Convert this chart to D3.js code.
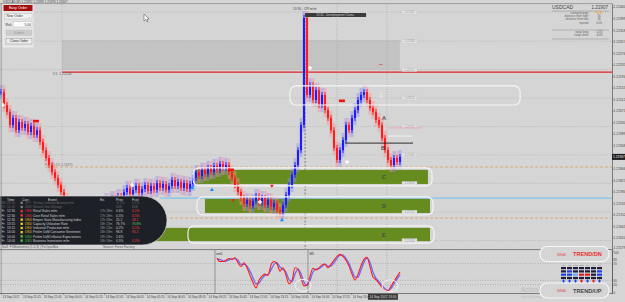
<!DOCTYPE html>
<html>
<head>
<meta charset="utf-8">
<script src="https://cdn.jsdelivr.net/npm/d3@7"></script>
<style>
  body { margin: 0; background: #d5d5d5; overflow: hidden; }
  svg { display: block; font-family: "Liberation Sans", Arial, sans-serif; }
</style>
</head>
<body>
<svg id="chart" width="625" height="302"></svg>
<script>
// ---- data ---------------------------------------------------------------------------------------
var symbol = 'USDCAD', period = 'M5';
var barStep = 11.65;                                   // minutes between plotted samples
var closes = [
  1.22137, 1.22091, 1.22066, 1.22020, 1.22045, 1.22002, 1.22031, 1.22010, 1.22024, 1.21995, 1.22017, 1.21985,
  1.22002, 1.21960, 1.21931, 1.21903, 1.21878, 1.21853, 1.21832, 1.21807, 1.21782,
  1.21754, 1.21736, 1.21718, 1.21704, 1.21711, 1.21697, 1.21718, 1.21708, 1.21729, 1.21715, 1.21736,
  1.21726, 1.21743, 1.21733, 1.21754, 1.21740, 1.21761, 1.21750, 1.21768, 1.21758, 1.21782, 1.21797,
  1.21775, 1.21790, 1.21804, 1.21779, 1.21793, 1.21807, 1.21786, 1.21804, 1.21790, 1.21814, 1.21797,
  1.21811, 1.21790, 1.21804, 1.21825, 1.21804, 1.21818, 1.21797, 1.21814, 1.21793, 1.21811,
  1.21832, 1.21853, 1.21839, 1.21861, 1.21846, 1.21868, 1.21853, 1.21875, 1.21861, 1.21882, 1.21868,
  1.21878, 1.21853, 1.21832, 1.21807, 1.21782, 1.21761, 1.21740, 1.21754, 1.21733, 1.21750, 1.21768,
  1.21743, 1.21761, 1.21736, 1.21754, 1.21729, 1.21743, 1.21718, 1.21711, 1.21736, 1.21772, 1.21807,
  1.21843, 1.21878, 1.21931, 1.22020, 1.22400,
  1.22127, 1.22162, 1.22109, 1.22144, 1.22091, 1.22127, 1.22073, 1.22045, 1.22002, 1.21939, 1.21896,
  1.21931, 1.21967, 1.22020, 1.22002, 1.22045, 1.22073, 1.22109, 1.22127, 1.22137, 1.22109, 1.22081,
  1.22066, 1.22038, 1.22020, 1.21974, 1.21931, 1.21896, 1.21878, 1.21903, 1.21889, 1.21907
];
var oscStart = 72;                                      // first sample with oscillator values
var stochMain = [83, 75, 75, 78, 82, 80, 84, 72, 63, 72, 60, 42, 25, 12, 30, 40, 45, 42, 67, 75,
  70, 52, 60, 42, 22, 30, 60, 56, 36, 17, 19, 40, 59, 55, 60, 67, 69, 60, 68, 78,
  87, 92, 87, 78, 64, 45, 31, 44, 65, 80, 85, 63, 38, 32, 23, 14, 7, 5, 16, 27, 39, 50];
var stochSignal = [80, 80, 76, 76, 79, 81, 82, 78, 68, 68, 64, 52, 36, 22, 24, 34, 42, 44, 55, 68,
  72, 62, 56, 50, 32, 27, 45, 57, 46, 26, 18, 30, 50, 57, 58, 63, 68, 64, 64, 72,
  82, 90, 90, 82, 70, 53, 38, 38, 55, 73, 83, 73, 50, 35, 27, 18, 10, 6, 11, 22, 33, 44];
var oscLevels = [0, 20, 30, 70, 80, 100];
var priceTicks = [1.22440, 1.22399, 1.22358, 1.22317, 1.22276, 1.22235, 1.22194, 1.22153, 1.22112,
  1.22071, 1.22030, 1.21989, 1.21948, 1.21907, 1.21866, 1.21825, 1.21784, 1.21743, 1.21702,
  1.21661, 1.21620, 1.21579];
var timeTicks = ['2017-09-13 20:05', '2017-09-13 21:25', '2017-09-13 22:45', '2017-09-14 00:05',
  '2017-09-14 01:25', '2017-09-14 02:45', '2017-09-14 04:05', '2017-09-14 05:25', '2017-09-14 06:45',
  '2017-09-14 08:05', '2017-09-14 09:25', '2017-09-14 10:45', '2017-09-14 12:05', '2017-09-14 13:25',
  '2017-09-14 14:45', '2017-09-14 16:05', '2017-09-14 17:25', '2017-09-14 18:45'];
var cursorTime = '2017-09-14 19:50';
var levelPrices = [1.22421, 1.22318, 1.22217, 1.22116, 1.22015, 1.21914, 1.21813, 1.21711, 1.21610];
var gridMinutes = [237, 1305, 1499];
// zones: [startMin, endMin, top, bottom, label]
var zones = [
  [753, 1658, 1.21861, 1.21811, 'C'],
  [792, 1666, 1.21758, 1.21708, 'D'],
  [-4, 1666, 1.21655, 1.21608, 'E']
];
var zoneOutlines = [[1122, 2016, 1.22159, 1.22091], [746, 1674, 1.21868, 1.21804],
  [761, 1678, 1.21765, 1.21701], [726, 1682, 1.21662, 1.21601]];
var supplyZone = [237, 1549, 1.22322, 1.22216];
var dailyLine = 1.22208, fibLevels = [[171, 1.21871], [637, 1.21690]], pivotLine = [617, 1.21761];
var abLines = [[1336, 1600, 1.21956, '#1a1a1a'], [1503, 1635, 1.22010, '#f0a0c8'], [1503, 1596, 1.21981, '#f4f4f4']];
var letters = [[1487, 1.22045, 'A'], [1483, 1.21939, 'B']];
var stars = [[8, 1.22091], [509, 1.21807], [1006, 1.21747], [1200, 1.22223], [1344, 1.21889]];
var upArrows = [[742, 1.21797], [819, 1.21790], [1091, 1.21683]];
var downArrows = [[901, 1.21754], [1052, 1.21804]];
var redBlocks = [[136, 1.22034], [893, 1.21861], [1324, 1.22106]];
var newsMinute = 1181;
var infoRows = [['change/range:', '96/96', '#f0a020'], ['distance from high:', '56', '#666'],
  ['distance from low:', '36', '#666'], ['spread:', '0.00', '#666']];
var swapRows = [['swap long:', '-0.33'], ['swap short:', '-4.03']];
var newsHeader = ['Time', 'Curr.', 'Event', 'Ex.', 'Prev', 'Fcst'];
var newsRows = [
  ['We', '23:50', 'JPY', 'Tertiary Industry Activity m/m', '', '-0.1%', '0.1%', 'past'],
  ['Th', '15:30', 'USD', 'Natural Gas Storage', '', '65B', '82B', 'past'],
  ['Fr', '12:30', 'USD', 'Retail Sales m/m', '17h 28m', '0.6%', '0.1%', 'high'],
  ['Fr', '12:30', 'USD', 'Core Retail Sales m/m', '17h 28m', '0.5%', '0.5%', 'high'],
  ['Fr', '12:30', 'USD', 'Empire State Manufacturing Index', '17h 28m', '25.2', '18.1', 'med'],
  ['Fr', '13:15', 'USD', 'Capacity Utilization Rate', '18h 13m', '76.7%', '76.8%', 'med'],
  ['Fr', '13:15', 'USD', 'Industrial Production m/m', '18h 13m', '0.2%', '0.1%', 'med'],
  ['Fr', '14:00', 'USD', 'Prelim UoM Consumer Sentiment', '18h 58m', '96.8', '95.1', 'med'],
  ['Fr', '14:00', 'USD', 'Prelim UoM Inflation Expectations', '18h 58m', '2.6%', '', 'low'],
  ['Fr', '14:00', 'USD', 'Business Inventories m/m', '18h 58m', '0.5%', '0.2%', 'low']
];
var fcstColors = ['#888', '#888', '#ff4040', '#ff4040', '#ff4040', '#60d060', '#ff4040', '#ff4040', '#888', '#ff4040'];
var tfNames = ['M1', 'M5', 'M15', 'M30', 'H1', 'H4', 'D1'];
var tfMatrix = [
  ['n', 'n', 'n', 'n', 'n', 'n', 'n'],
  ['n', 'b', 'n', 'n', 'n', 'n', 'b'],
  ['b', 'b', 'l', 'r', 'r', 'n', 'b'],
  ['n', 'n', 'n', 'n', 'n', 'n', 'n']
];
var tfDots = ['b', 'b', 'b', 'r', 'b', 'r', 'b'];

// ---- scales -------------------------------------------------------------------------------------
var svg = d3.select('#chart');
var plotRight = 612, mainTop = 4, mainBottom = 249, oscTop = 250, oscBottom = 293;
var t0 = new Date(2017, 8, 13, 20, 5);
var parseT = d3.timeParse('%Y-%m-%d %H:%M');
function tm(m) { return new Date(+t0 + m * 60000) }
var x = d3.scaleTime().domain([t0, tm(2400)]).range([1, 619]);
function xm(m) { return x(tm(m)) }
var y = d3.scaleLinear().domain([1.22464, 1.21399]).range([0, 300]);
var yOsc = d3.scaleLinear().domain([0, 100]).range([293, 251]);
var bars = closes.map(function(c, i) {
  return { m: i * barStep, open: i ? closes[i - 1] : c, close: c };
});
var last = closes[closes.length - 1];

svg.append('rect').attr('width', 625).attr('height', 302).attr('fill', '#d5d5d5');
svg.append('clipPath').attr('id', 'clipMain').append('rect')
  .attr('x', 0).attr('y', mainTop).attr('width', plotRight).attr('height', mainBottom - mainTop);
var main = svg.append('g').attr('clip-path', 'url(#clipMain)');

// Background zones and grid ///////////////////////////////////////////////////////////////////////
main.append('rect').attr('x', xm(supplyZone[0])).attr('y', y(supplyZone[2]))
  .attr('width', xm(supplyZone[1]) - xm(supplyZone[0])).attr('height', y(supplyZone[3]) - y(supplyZone[2]))
  .attr('fill', '#c3c3c3');
main.selectAll('.hgrid').data(levelPrices).enter().append('line')
  .attr('x1', 0).attr('x2', plotRight).attr('y1', y).attr('y2', y)
  .attr('stroke', '#a9a9a9').attr('stroke-width', 0.6).attr('stroke-dasharray', '1,1.5');
main.selectAll('.vgrid').data(gridMinutes).enter().append('line')
  .attr('x1', xm).attr('x2', xm).attr('y1', mainTop).attr('y2', mainBottom)
  .attr('stroke', '#a0a0a0').attr('stroke-width', 0.6).attr('stroke-dasharray', '1,1.5');
main.append('line').attr('x1', xm(newsMinute)).attr('x2', xm(newsMinute)).attr('y1', 14).attr('y2', mainBottom)
  .attr('stroke', '#555').attr('stroke-width', 0.7).attr('stroke-dasharray', '2,1.5');

// horizontal levels
main.append('line').attr('x1', xm(237)).attr('x2', plotRight).attr('y1', y(dailyLine)).attr('y2', y(dailyLine))
  .attr('stroke', '#e02020').attr('stroke-width', 1.2);
main.append('text').attr('x', 53).attr('y', y(dailyLine) + 3).attr('font-size', 3.4).attr('fill', '#666')
  .text('D1: ' + d3.format('.5f')(dailyLine));
fibLevels.forEach(function(f) {
  main.append('line').attr('x1', xm(f[0])).attr('x2', plotRight).attr('y1', y(f[1])).attr('y2', y(f[1]))
    .attr('stroke', '#e0a060').attr('stroke-width', 0.8).attr('stroke-dasharray', '3,2');
});
main.append('text').attr('x', xm(fibLevels[0][0])).attr('y', y(fibLevels[0][1]) - 0.6)
  .attr('font-size', 3.2).attr('fill', '#777').text('Fib. 38.2%  ' + d3.format('.5f')(fibLevels[0][1]));
main.append('line').attr('x1', xm(pivotLine[0])).attr('x2', plotRight).attr('y1', y(pivotLine[1])).attr('y2', y(pivotLine[1]))
  .attr('stroke', '#7ec4f0').attr('stroke-width', 1.2);

// green zones
zones.forEach(function(z) {
  main.append('rect').attr('x', xm(z[0])).attr('y', y(z[2]))
    .attr('width', xm(z[1]) - xm(z[0])).attr('height', y(z[3]) - y(z[2])).attr('fill', '#668b1e');
  main.append('text').attr('x', xm(1487)).attr('y', (y(z[2]) + y(z[3])) / 2 + 2)
    .attr('text-anchor', 'middle').attr('font-size', 5.5).attr('font-weight', 'bold').attr('fill', '#4a4a4a').text(z[4]);
});

// level tags
levelPrices.forEach(function(p) {
  main.append('rect').attr('x', 402).attr('y', y(p) - 2).attr('width', 15).attr('height', 4)
    .attr('fill', '#e2e2e2').attr('stroke', '#bdbdbd').attr('stroke-width', 0.3);
  main.append('text').attr('x', 409.5).attr('y', y(p) + 1.1).attr('text-anchor', 'middle')
    .attr('font-size', 2.8).attr('fill', '#999').text(d3.format('.5f')(p));
});

// Bars ////////////////////////////////////////////////////////////////////////////////////////////
var up = '#1c1cff', down = '#ff1c1c';
main.selectAll('.ghost').data(bars).enter().append('rect')
  .attr('x', function(d) { return xm(d.m) - 1.5 })
  .attr('y', function(d) { return y(Math.max(d.open, d.close)) - 7 })
  .attr('width', 3)
  .attr('height', function(d) { return Math.abs(y(d.open) - y(d.close)) + 14 })
  .attr('fill', function(d) { return d.close >= d.open ? '#8c8cff' : '#ff9090' })
  .attr('opacity', 0.45);
main.selectAll('.wick').data(bars).enter().append('rect')
  .attr('x', function(d) { return xm(d.m) - 0.5 })
  .attr('y', function(d) { return y(Math.max(d.open, d.close)) - 3 })
  .attr('width', 1)
  .attr('height', function(d) { return Math.abs(y(d.open) - y(d.close)) + 6 })
  .attr('fill', function(d) { return d.close >= d.open ? up : down });
main.selectAll('.body').data(bars).enter().append('rect')
  .attr('x', function(d) { return xm(d.m) - 1 })
  .attr('y', function(d) { return y(Math.max(d.open, d.close)) })
  .attr('width', 2)
  .attr('height', function(d) { return Math.max(1, Math.abs(y(d.open) - y(d.close))) })
  .attr('fill', function(d) { return d.close >= d.open ? up : down });

// outlines over the bars
zoneOutlines.forEach(function(z) {
  main.append('rect').attr('x', xm(z[0])).attr('y', y(z[2]))
    .attr('width', xm(z[1]) - xm(z[0])).attr('height', y(z[3]) - y(z[2]))
    .attr('rx', 6).attr('fill', 'none').attr('stroke', '#f6f6f6').attr('stroke-width', 1.1);
});
abLines.forEach(function(l) {
  main.append('line').attr('x1', xm(l[0])).attr('x2', xm(l[1])).attr('y1', y(l[2])).attr('y2', y(l[2]))
    .attr('stroke', l[3]).attr('stroke-width', 0.9);
});
letters.forEach(function(l) {
  main.append('text').attr('x', xm(l[0])).attr('y', y(l[1]) + 2).attr('text-anchor', 'middle')
    .attr('font-size', 5.5).attr('font-weight', 'bold').attr('fill', '#4a4a4a').text(l[2]);
});
main.append('text').attr('x', xm(1476)).attr('y', y(1.22126) + 2.5).attr('text-anchor', 'middle')
  .attr('font-size', 7).attr('fill', '#f4f4f4').text('⇩');
main.append('line').attr('x1', xm(1468)).attr('x2', xm(1482)).attr('y1', y(1.22235)).attr('y2', y(1.22235))
  .attr('stroke', '#e05050').attr('stroke-width', 0.8);
main.selectAll('.block').data(redBlocks).enter().append('rect')
  .attr('x', function(d) { return xm(d[0]) - 3 }).attr('y', function(d) { return y(d[1]) - 1.3 })
  .attr('width', 6).attr('height', 2.6).attr('fill', '#f01010');
main.selectAll('.star').data(stars).enter().append('path')
  .attr('transform', function(d) { return 'translate(' + xm(d[0]) + ',' + y(d[1]) + ')' })
  .attr('d', d3.symbol(d3.symbolCross, 9)).attr('fill', '#ffffff');
main.selectAll('.uparrow').data(upArrows).enter().append('path')
  .attr('transform', function(d) { return 'translate(' + xm(d[0]) + ',' + y(d[1]) + ')' })
  .attr('d', d3.symbol(d3.symbolTriangle, 7)).attr('fill', '#1890ff');
main.selectAll('.dnarrow').data(downArrows).enter().append('path')
  .attr('transform', function(d) { return 'translate(' + xm(d[0]) + ',' + y(d[1]) + ') rotate(180)' })
  .attr('d', d3.symbol(d3.symbolTriangle, 6)).attr('fill', '#f02020');

// news annotation
main.append('text').attr('x', xm(newsMinute) - 12).attr('y', 10).attr('font-size', 3.2).attr('fill', '#444')
  .text('13:30 - CPI m/m');
main.append('rect').attr('x', xm(newsMinute)).attr('y', 13).attr('width', 61).attr('height', 4).attr('fill', '#3a3a3a');
main.append('text').attr('x', xm(newsMinute) + 30).attr('y', 16).attr('text-anchor', 'middle')
  .attr('font-size', 2.8).attr('fill', '#ccc').text('13:30 - Unemployment Claims');

// Left news table /////////////////////////////////////////////////////////////////////////////////
var tbl = svg.append('g');
tbl.append('path').attr('d', 'M0,196 H142 A25,24.5 0 0 1 142,245 H0 Z')
  .attr('fill', '#1d2027').attr('stroke', '#e8e8e8').attr('stroke-width', 0.6);
var colX = [7, 22, 48, 100, 116, 132];
newsHeader.forEach(function(h, i) {
  tbl.append('text').attr('x', colX[i]).attr('y', 200.5).attr('font-size', 3.4).attr('fill', '#d8d8d8').text(h);
});
var dotCol = { past: '#777', high: '#f03030', med: '#f0c020', low: '#50c040' };
newsRows.forEach(function(r, i) {
  var ry = 204 + i * 4.2, past = r[7] === 'past';
  var base = past ? '#6a6a6a' : '#d0d0d0';
  tbl.append('text').attr('x', 1.5).attr('y', ry).attr('font-size', 3.2).attr('fill', base).text(r[0]);
  tbl.append('text').attr('x', 7).attr('y', ry).attr('font-size', 3.2).attr('fill', base).text(r[1]);
  tbl.append('rect').attr('x', 20.5).attr('y', ry - 2.4).attr('width', 2.4).attr('height', 2.4).attr('fill', dotCol[r[7]]);
  tbl.append('text').attr('x', 25).attr('y', ry).attr('font-size', 3.2).attr('fill', past ? '#6a6a6a' : dotCol[r[7]]).text(r[2]);
  tbl.append('text').attr('x', 33).attr('y', ry).attr('font-size', 3.2).attr('fill', base).text(r[3]);
  tbl.append('text').attr('x', 100).attr('y', ry).attr('font-size', 3.2).attr('fill', '#999').text(r[4]);
  tbl.append('text').attr('x', 116).attr('y', ry).attr('font-size', 3.2).attr('fill', base).text(r[5]);
  tbl.append('text').attr('x', 132).attr('y', ry).attr('font-size', 3.2).attr('fill', past ? '#6a6a6a' : fcstColors[i]).text(r[6]);
});
svg.append('text').attr('x', 2).attr('y', 248.2).attr('font-size', 3.2).attr('fill', '#555')
  .text('Swfl: FXMarketInfo (1.0.3)  |  FxOpenBox');
svg.append('text').attr('x', 103).attr('y', 248.2).attr('font-size', 3.2).attr('fill', '#555').text('Source: Forex Factory');

// Order panel (top left) //////////////////////////////////////////////////////////////////////////
var op = svg.append('g');
op.append('rect').attr('x', 3).attr('y', 4).attr('width', 30).attr('height', 43)
  .attr('fill', '#e4e4e4').attr('stroke', '#f8f8f8').attr('stroke-width', 0.6);
op.append('rect').attr('x', 3.5).attr('y', 5).attr('width', 29).attr('height', 6).attr('fill', '#a40e0e');
op.append('text').attr('x', 18).attr('y', 9.3).attr('text-anchor', 'middle').attr('font-size', 3.6).attr('fill', '#fff').text('Easy Order');
op.append('rect').attr('x', 5).attr('y', 13.5).attr('width', 27).attr('height', 5.5).attr('fill', '#f2f2f2').attr('stroke', '#999').attr('stroke-width', 0.3);
op.append('text').attr('x', 6.5).attr('y', 17.4).attr('font-size', 3.4).attr('fill', '#333').text('New Order');
op.append('text').attr('x', 28).attr('y', 17.6).attr('font-size', 3.4).attr('fill', '#555').text('⌄');
op.append('text').attr('x', 5.5).attr('y', 25.5).attr('font-size', 3.4).attr('fill', '#333').text('Rsk');
op.append('rect').attr('x', 13).attr('y', 21.5).attr('width', 19).attr('height', 5.5).attr('fill', '#fafafa').attr('stroke', '#999').attr('stroke-width', 0.3);
op.append('text').attr('x', 31).attr('y', 25.5).attr('text-anchor', 'end').attr('font-size', 3.4).attr('fill', '#333').text('5.00');
op.append('rect').attr('x', 6).attr('y', 30).attr('width', 26).attr('height', 5.5).attr('fill', '#cbcbcb').attr('stroke', '#bbb').attr('stroke-width', 0.3);
op.append('text').attr('x', 19).attr('y', 34).attr('text-anchor', 'middle').attr('font-size', 3.3).attr('fill', '#999').text('Submit');
op.append('rect').attr('x', 6).attr('y', 38.5).attr('width', 26).attr('height', 5.5).attr('fill', '#ececec').attr('stroke', '#888').attr('stroke-width', 0.4);
op.append('text').attr('x', 19).attr('y', 42.4).attr('text-anchor', 'middle').attr('font-size', 3.3).attr('fill', '#222').text('Close Order');
// mouse pointer
svg.append('path').attr('d', 'M144,14 L144,21 L145.7,19.4 L147,22 L148,21.5 L146.8,19 L149,19 Z')
  .attr('fill', '#fff').attr('stroke', '#222').attr('stroke-width', 0.4);

// Header line and frame
svg.append('text').attr('x', 3).attr('y', 2.7).attr('font-size', 3).attr('fill', '#444')
  .text(symbol + ',' + period + '  1.21882 1.21895 1.21876 ' + d3.format('.5f')(last));
svg.append('line').attr('x1', 0).attr('x2', plotRight).attr('y1', 3.6).attr('y2', 3.6).attr('stroke', '#777').attr('stroke-width', 0.6);
svg.append('line').attr('x1', 1.2).attr('x2', 1.2).attr('y1', 3.6).attr('y2', oscBottom).attr('stroke', '#777').attr('stroke-width', 0.6);

// Info panel (top right) //////////////////////////////////////////////////////////////////////////
svg.append('text').attr('x', 552).attr('y', 9).attr('font-size', 5).attr('fill', '#444').text(symbol);
svg.append('text').attr('x', 608).attr('y', 9).attr('text-anchor', 'end').attr('font-size', 4.6).attr('fill', '#444').text(d3.format('.5f')(last));
svg.append('line').attr('x1', 552).attr('x2', 609).attr('y1', 11).attr('y2', 11).attr('stroke', '#777').attr('stroke-width', 0.4);
infoRows.forEach(function(r, i) {
  var ry = 14.2 + i * (i === 3 ? 3.3 : 2.7);
  svg.append('text').attr('x', 589).attr('y', ry).attr('text-anchor', 'end').attr('font-size', 2.9).attr('fill', '#666').text(r[0]);
  svg.append('text').attr('x', 599).attr('y', ry).attr('text-anchor', 'middle').attr('font-size', 2.9).attr('fill', r[2]).text(r[1]);
});
svg.append('line').attr('x1', 552).attr('x2', 609).attr('y1', 30).attr('y2', 30).attr('stroke', '#777').attr('stroke-width', 0.4);
swapRows.forEach(function(r, i) {
  svg.append('text').attr('x', 589).attr('y', 33 + i * 2.8).attr('text-anchor', 'end').attr('font-size', 2.9).attr('fill', '#666').text(r[0]);
  svg.append('text').attr('x', 599).attr('y', 33 + i * 2.8).attr('text-anchor', 'middle').attr('font-size', 2.9).attr('fill', '#666').text(r[1]);
});
svg.append('line').attr('x1', 552).attr('x2', 609).attr('y1', 39).attr('y2', 39).attr('stroke', '#777').attr('stroke-width', 0.4);

// Oscillator //////////////////////////////////////////////////////////////////////////////////////
svg.append('line').attr('x1', 0).attr('x2', plotRight).attr('y1', 249.6).attr('y2', 249.6).attr('stroke', '#666').attr('stroke-width', 0.8);
[20, 30, 70].forEach(function(v) {
  svg.append('line').attr('x1', 0).attr('x2', plotRight).attr('y1', yOsc(v)).attr('y2', yOsc(v))
    .attr('stroke', '#999').attr('stroke-width', 0.6).attr('stroke-dasharray', '1,1.5');
});
[831, 1192].forEach(function(m) {
  svg.append('line').attr('x1', xm(m)).attr('x2', xm(m)).attr('y1', oscTop).attr('y2', oscBottom)
    .attr('stroke', '#666').attr('stroke-width', 0.6);
});
[1305, 1499].forEach(function(m) {
  svg.append('line').attr('x1', xm(m)).attr('x2', xm(m)).attr('y1', oscTop).attr('y2', oscBottom)
    .attr('stroke', '#999').attr('stroke-width', 0.6).attr('stroke-dasharray', '1,1.5');
});
svg.append('text').attr('x', xm(831) + 1).attr('y', 255).attr('font-size', 3.4).attr('fill', '#333').text('sm5');
svg.append('text').attr('x', xm(1192) + 1.5).attr('y', 255).attr('font-size', 3.4).attr('fill', '#333').text('M5');
var oscLine = function(vals) {
  return d3.line().x(function(d, i) { return xm((oscStart + i) * barStep) }).y(function(d) { return yOsc(d) })
    .curve(d3.curveMonotoneX)(vals);
};
svg.append('path').attr('d', oscLine(stochSignal)).attr('fill', 'none').attr('stroke', '#6a6aff').attr('stroke-width', 1.3);
svg.append('path').attr('d', oscLine(stochMain)).attr('fill', 'none').attr('stroke', '#ff1c1c').attr('stroke-width', 1.1);
[[1173, 18], [1511, 17]].forEach(function(c) {
  svg.append('ellipse').attr('cx', xm(c[0])).attr('cy', yOsc(c[1])).attr('rx', 8).attr('ry', 6)
    .attr('fill', 'none').attr('stroke', '#f4f4f4').attr('stroke-width', 1);
});

// Axes ////////////////////////////////////////////////////////////////////////////////////////////
function styleAxis(g, anchor) {
  g.attr('font-family', null).attr('font-size', null);
  g.select('.domain').attr('stroke', '#555').attr('stroke-width', 0.7);
  g.selectAll('.tick line').attr('stroke', '#555').attr('stroke-width', 0.5);
  g.selectAll('.tick text').attr('font-size', 3.3).attr('fill', '#444').attr('text-anchor', anchor);
}
var shownTicks = priceTicks.filter(function(p) { return Math.abs(y(p) - y(last)) > 4 });
var yAxisG = svg.append('g').attr('transform', 'translate(' + plotRight + ',0)')
  .call(d3.axisRight(y).tickValues(shownTicks).tickSize(1.5).tickSizeOuter(0).tickFormat(d3.format('.5f')));
yAxisG.select('.domain').attr('d', 'M0.5,3.6V' + oscBottom);
styleAxis(yAxisG, 'start');
yAxisG.selectAll('.tick text').attr('x', 1.6).attr('dy', '0.35em');
yAxisG.selectAll('.tick text').filter(function(d) { return y(d) > 247 }).attr('dy', '-0.1em');
var oAxisG = svg.append('g').attr('transform', 'translate(' + plotRight + ',0)')
  .call(d3.axisRight(yOsc).tickValues(oscLevels).tickSize(1.5).tickSizeOuter(0));
styleAxis(oAxisG, 'start');
oAxisG.selectAll('.tick text').attr('x', 1.6).attr('dy', '0.35em').attr('font-size', 3);
oAxisG.selectAll('.tick text').filter(function(d) { return d === 100 }).attr('dy', '0.95em');
oAxisG.selectAll('.tick text').filter(function(d) { return d === 0 }).attr('dy', '0.1em');
svg.append('rect').attr('x', plotRight).attr('y', y(last) - 3).attr('width', 13).attr('height', 6).attr('fill', '#1b1b1b');
svg.append('text').attr('x', plotRight + 1).attr('y', y(last) + 1.2).attr('font-size', 3.3).attr('fill', '#fff').text(d3.format('.5f')(last));

var fmtFirst = d3.timeFormat('%d %b %Y'), fmtT = d3.timeFormat('%d %b %H:%M');
var xAxisG = svg.append('g').attr('transform', 'translate(0,' + oscBottom + ')')
  .call(d3.axisBottom(x).tickValues(timeTicks.map(parseT)).tickSize(2).tickSizeOuter(0)
    .tickFormat(function(d, i) { return i === 0 ? fmtFirst(d) : fmtT(d) }));
xAxisG.select('.domain').attr('d', 'M0,0.5H' + plotRight);
styleAxis(xAxisG, 'start');
xAxisG.selectAll('.tick text').attr('x', 1).attr('y', 2.5).attr('dy', '0.71em').attr('font-size', 3);
var cx = x(parseT(cursorTime));
svg.append('rect').attr('x', cx).attr('y', 293.8).attr('width', 30).attr('height', 6).attr('fill', '#3c3c3c');
svg.append('text').attr('x', cx + 15).attr('y', 298.2).attr('text-anchor', 'middle').attr('font-size', 3.2).attr('fill', '#ddd')
  .text(d3.timeFormat('%d %b %Y %H:%M')(parseT(cursorTime)));

// Trend panels (bottom right) /////////////////////////////////////////////////////////////////////
svg.append('text').attr('x', 521).attr('y', 291.5).attr('font-size', 6.5).attr('fill', '#bdbdbd').text('Activate Windows');
svg.append('text').attr('x', 521).attr('y', 297.5).attr('font-size', 3.6).attr('fill', '#bdbdbd').text('Go to Settings to activate Windows.');
function trendPanel(py, word, col) {
  svg.append('rect').attr('x', 540).attr('y', py).attr('width', 69).attr('height', 15).attr('rx', 7)
    .attr('fill', '#d5d5d5').attr('stroke', '#f6f6f6').attr('stroke-width', 1.2);
  svg.append('text').attr('x', 557).attr('y', py + 9.2).attr('font-size', 3.2).attr('fill', '#e05050').text('WEAK');
  svg.append('text').attr('x', 573).attr('y', py + 9.8).attr('font-size', 5.6).attr('font-weight', 'bold').attr('fill', col).text(word);
}
trendPanel(246.5, 'TREND/DN', '#ec3030');
trendPanel(283, 'TREND/UP', '#454545');
var cellCol = { n: '#1d1d3a', b: '#2040f0', l: '#6aa8ff', r: '#e02020' };
tfNames.forEach(function(n, j) {
  svg.append('text').attr('x', 563.5 + j * 6).attr('y', 265.5).attr('text-anchor', 'middle').attr('font-size', 2.2).attr('fill', '#666').text(n);
});
tfMatrix.forEach(function(row, r) {
  row.forEach(function(c, j) {
    svg.append('rect').attr('x', 561 + j * 6).attr('y', 267 + r * 3.3).attr('width', 5).attr('height', 2.2).attr('fill', cellCol[c]);
  });
});
tfDots.forEach(function(c, j) {
  svg.append('path').attr('transform', 'translate(' + (563.5 + j * 6) + ',281)')
    .attr('d', d3.symbol(d3.symbolCross, 5)).attr('fill', c === 'b' ? '#2040f0' : '#e02020');
});
</script>
</body>
</html>
